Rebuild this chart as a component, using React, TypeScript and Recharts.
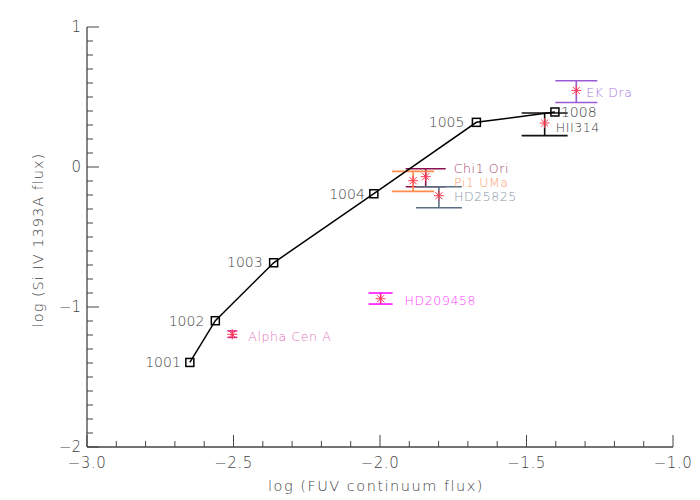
import { ScatterChart, Scatter, XAxis, YAxis, ErrorBar } from "recharts";

// ---------------------------------------------------------------------------
// Data
// ---------------------------------------------------------------------------

const trackX = [-2.649, -2.562, -2.363, -2.021, -1.671, -1.403];
const trackY = [-1.396, -1.098, -0.684, -0.191, 0.319, 0.393];
const trackLabels = ["1001", "1002", "1003", "1004", "1005", "1008"];

const starNames = ["EK Dra", "HII314", "Chi1 Ori", "Pi1 UMa", "HD25825", "HD209458", "Alpha Cen A"];
const starX = [-1.33, -1.438, -1.844, -1.887, -1.799, -1.998, -2.504];
const starY = [0.547, 0.314, -0.069, -0.098, -0.205, -0.941, -1.195];
const starYHigh = [0.616, 0.386, -0.012, -0.031, -0.141, -0.9, -1.171];
const starYLow = [0.461, 0.224, -0.141, -0.174, -0.291, -0.979, -1.217];

const xTicks = [
  -3.0, -2.9, -2.8, -2.7, -2.6, -2.5, -2.4, -2.3, -2.2, -2.1, -2.0,
  -1.9, -1.8, -1.7, -1.6, -1.5, -1.4, -1.3, -1.2, -1.1, -1.0,
];
const yTicks = [
  -2.0, -1.9, -1.8, -1.7, -1.6, -1.5, -1.4, -1.3, -1.2, -1.1, -1.0,
  -0.9, -0.8, -0.7, -0.6, -0.5, -0.4, -0.3, -0.2, -0.1, 0.0,
  0.1, 0.2, 0.3, 0.4, 0.5, 0.6, 0.7, 0.8, 0.9, 1.0,
];

// ---------------------------------------------------------------------------
// Styles
// ---------------------------------------------------------------------------

const FONT = "'DejaVu Sans', sans-serif";
const AXIS = "#444";
const TEXT = "#444";
const STAR = "#ff3a55";

// per-star: error bar colour, label colour, cap half-width, label offset (px)
const starStyle = [
  { bar: "#9b5bd4", text: "#a878e0", cap: 21, dx: 10, dy: 2 },
  { bar: "#111111", text: "#444444", cap: 23, dx: 11, dy: 4 },
  { bar: "#8b1050", text: "#a03a6a", cap: 20, dx: 28, dy: -8 },
  { bar: "#ff8c4a", text: "#ffa070", cap: 21, dx: 41, dy: 2 },
  { bar: "#5a6e82", text: "#8797a8", cap: 23, dx: 15, dy: 1 },
  { bar: "#ff10ff", text: "#ff40ff", cap: 12, dx: 24, dy: 2 },
  { bar: "#d8288a", text: "#e070b8", cap: 5, dx: 16, dy: 2 },
];

const trackOffsets = [
  { dx: -9, dy: 0, anchor: "end" },
  { dx: -11, dy: 0, anchor: "end" },
  { dx: -11, dy: -1, anchor: "end" },
  { dx: -9, dy: 0, anchor: "end" },
  { dx: -12, dy: 0, anchor: "end" },
  { dx: 6, dy: 0, anchor: "start" },
];

const trackData = trackX.map((x, i) => ({ x, y: trackY[i], label: trackLabels[i] }));

const starData = starNames.map((name, i) => ({
  x: starX[i],
  y: starY[i],
  err: [starY[i] - starYLow[i], starYHigh[i] - starY[i]],
  name,
}));

const isMajorX = (v: number) => Math.abs(v * 2 - Math.round(v * 2)) < 1e-6;
const isMajorY = (v: number) => Math.abs(v - Math.round(v)) < 1e-6;
const fmtX = (v: number) => v.toFixed(1).replace("-", "\u2212");
const fmtY = (v: number) => String(Math.round(v)).replace("-", "\u2212");

// ---------------------------------------------------------------------------
// Ticks (drawn inward, like the original plot box)
// ---------------------------------------------------------------------------

function BottomTick({ x, y, payload }: any) {
  const major = isMajorX(payload.value);
  return (
    <g>
      <line x1={x} y1={y} x2={x} y2={y - (major ? 12 : 6)} stroke={AXIS} strokeWidth={1} />
      {major && (
        <text
          x={x}
          y={y + 21}
          textAnchor="middle"
          fontSize={15}
          letterSpacing={0.5}
          fill={TEXT}
          fontFamily={FONT}
          fontWeight={200}
        >
          {fmtX(payload.value)}
        </text>
      )}
    </g>
  );
}

function TopTick({ x, y, payload }: any) {
  const major = isMajorX(payload.value);
  return <line x1={x} y1={y} x2={x} y2={y + (major ? 12 : 6)} stroke={AXIS} strokeWidth={1} />;
}

function LeftTick({ x, y, payload }: any) {
  const major = isMajorY(payload.value);
  return (
    <g>
      <line x1={x} y1={y} x2={x + (major ? 12 : 6)} y2={y} stroke={AXIS} strokeWidth={1} />
      {major && (
        <text x={x - 6} y={y + 5} textAnchor="end" fontSize={15} fill={TEXT} fontFamily={FONT} fontWeight={200}>
          {fmtY(payload.value)}
        </text>
      )}
    </g>
  );
}

function RightTick({ x, y, payload }: any) {
  const major = isMajorY(payload.value);
  return <line x1={x} y1={y} x2={x - (major ? 12 : 6)} y2={y} stroke={AXIS} strokeWidth={1} />;
}

// ---------------------------------------------------------------------------
// Marks
// ---------------------------------------------------------------------------

function TrackSquare({ cx, cy, index }: any) {
  const o = trackOffsets[index];
  return (
    <g>
      <rect x={cx - 4} y={cy - 4} width={8} height={8} fill="none" stroke="#000" strokeWidth={1.5} />
      <text
        x={cx + o.dx}
        y={cy + o.dy + 5}
        textAnchor={o.anchor}
        fontSize={14}
        fill={TEXT}
        fontFamily={FONT}
        fontWeight={200}
      >
        {trackLabels[index]}
      </text>
    </g>
  );
}

function makeStar(i: number) {
  const s = starStyle[i];
  return ({ cx, cy }: any) => {
    const r = 5;
    const d = r * 0.72;
    return (
      <g>
        <line x1={cx} y1={cy - r} x2={cx} y2={cy + r} stroke={STAR} strokeWidth={1} />
        <line x1={cx - r} y1={cy} x2={cx + r} y2={cy} stroke={STAR} strokeWidth={1} />
        <line x1={cx - d} y1={cy - d} x2={cx + d} y2={cy + d} stroke={STAR} strokeWidth={1} />
        <line x1={cx - d} y1={cy + d} x2={cx + d} y2={cy - d} stroke={STAR} strokeWidth={1} />
        <text
          x={cx + s.dx}
          y={cy + s.dy + 4.5}
          fontSize={12.5}
          letterSpacing={0.6}
          fill={s.text}
          fontFamily={FONT}
          fontWeight={200}
        >
          {starNames[i]}
        </text>
      </g>
    );
  };
}

function YTitle({ viewBox }: any) {
  const cx = 38;
  const cy = viewBox.y + viewBox.height / 2 + 3;
  return (
    <text
      x={cx}
      y={cy}
      transform={`rotate(-90, ${cx}, ${cy})`}
      textAnchor="middle"
      dominantBaseline="central"
      fontSize={14.5}
      letterSpacing={1}
      fill={TEXT}
      fontFamily={FONT}
      fontWeight={200}
    >
      log (Si IV 1393A flux)
    </text>
  );
}

function XTitle({ viewBox }: any) {
  return (
    <text
      x={viewBox.x + viewBox.width / 2 - 4}
      y={491}
      textAnchor="middle"
      fontSize={14.5}
      letterSpacing={1.5}
      fill={TEXT}
      fontFamily={FONT}
      fontWeight={200}
    >
      log (FUV continuum flux)
    </text>
  );
}

// ---------------------------------------------------------------------------
// Component
// ---------------------------------------------------------------------------

export default function App() {
  return (
    <div style={{ position: "absolute", left: 0, top: 0, width: 700, height: 500, background: "#fff" }}>
      <ScatterChart width={700} height={500} margin={{ top: 27, right: 27, bottom: 0, left: 0 }}>
        <XAxis
          xAxisId="b"
          type="number"
          dataKey="x"
          orientation="bottom"
          domain={[-3, -1]}
          ticks={xTicks}
          interval={0}
          allowDataOverflow
          height={53}
          tickSize={0}
          tickMargin={0}
          tick={<BottomTick />}
          axisLine={{ stroke: AXIS, strokeWidth: 1.3 }}
          label={<XTitle />}
        />
        <XAxis
          xAxisId="t"
          type="number"
          dataKey="x"
          orientation="top"
          domain={[-3, -1]}
          ticks={xTicks}
          interval={0}
          allowDataOverflow
          height={0}
          tickSize={0}
          tickMargin={0}
          tick={<TopTick />}
          axisLine={{ stroke: AXIS, strokeWidth: 1.3 }}
        />
        <YAxis
          yAxisId="l"
          type="number"
          dataKey="y"
          orientation="left"
          domain={[-2, 1]}
          ticks={yTicks}
          interval={0}
          allowDataOverflow
          width={87}
          tickSize={0}
          tickMargin={0}
          tick={<LeftTick />}
          axisLine={{ stroke: AXIS, strokeWidth: 1.3 }}
          label={<YTitle />}
        />
        <YAxis
          yAxisId="r"
          type="number"
          dataKey="y"
          orientation="right"
          domain={[-2, 1]}
          ticks={yTicks}
          interval={0}
          allowDataOverflow
          width={0}
          tickSize={0}
          tickMargin={0}
          tick={<RightTick />}
          axisLine={{ stroke: AXIS, strokeWidth: 1.3 }}
        />

        <Scatter
          xAxisId="b"
          yAxisId="l"
          data={trackData}
          line={{ stroke: "#000", strokeWidth: 1.5 }}
          shape={<TrackSquare />}
          isAnimationActive={false}
        />

        {starData.map((d, i) => (
          <Scatter
            key={d.name}
            xAxisId="b"
            yAxisId="l"
            data={[d]}
            shape={makeStar(i)}
            isAnimationActive={false}
          >
            <ErrorBar
              dataKey="err"
              direction="y"
              width={starStyle[i].cap}
              stroke={starStyle[i].bar}
              strokeWidth={1.6}
              isAnimationActive={false}
            />
          </Scatter>
        ))}
      </ScatterChart>
    </div>
  );
}
